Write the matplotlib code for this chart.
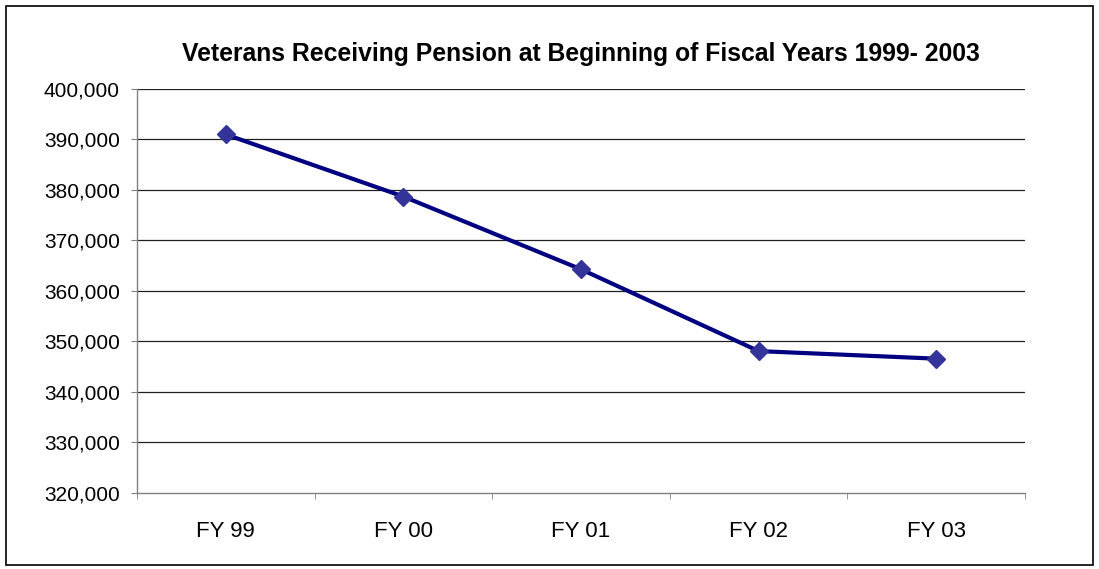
import matplotlib.pyplot as plt
from matplotlib.ticker import FuncFormatter
from matplotlib.patches import Rectangle

years = ['FY 99', 'FY 00', 'FY 01', 'FY 02', 'FY 03']
veterans = [391000, 378700, 364300, 348100, 346600]
y_ticks = list(range(320000, 400001, 10000))

plt.rcParams['font.family'] = ['Liberation Sans', 'DejaVu Sans']

fig = plt.figure(figsize=(10.99, 5.69), dpi=100)
ax = fig.add_axes([137 / 1099, 1 - 493 / 569, (1025 - 137) / 1099, (493 - 89) / 569])

# outer chart border
fig.patches.append(Rectangle((6 / 1099, 4 / 569), 1087 / 1099, 559 / 569,
                             transform=fig.transFigure, fill=False,
                             edgecolor='black', linewidth=1.2))

x = list(range(len(years)))
ax.plot(x, veterans, color='#000080', linewidth=3, marker='D',
        markersize=9, markerfacecolor='#333399', markeredgecolor='#333399', zorder=3)

ax.set_xlim(-0.5, len(years) - 0.5)
ax.set_ylim(320000, 400000)
ax.set_yticks(y_ticks)
ax.yaxis.set_major_formatter(FuncFormatter(lambda v, p: f'{int(v):,}'))
ax.set_xticks(x)
ax.set_xticklabels(years, fontsize=16)
ax.set_xticks([i - 0.5 for i in range(len(years) + 1)], minor=True)
ax.tick_params(axis='x', which='major', length=0, pad=20)
ax.tick_params(axis='x', which='minor', length=4.5, color='#808080', direction='out')
ax.tick_params(axis='y', labelsize=15, length=4, color='#808080', pad=8.5)

for v in y_ticks[1:]:
    ax.axhline(v, color='#202020', linewidth=0.9, zorder=1)

for side in ['top', 'right']:
    ax.spines[side].set_visible(False)
for side in ['left', 'bottom']:
    ax.spines[side].set_color('#808080')
    ax.spines[side].set_linewidth(1)

ax.set_title('Veterans Receiving Pension at Beginning of Fiscal Years 1999- 2003',
             fontsize=17.8, fontweight='bold', pad=20)

fig.savefig('out.png', dpi=100)
